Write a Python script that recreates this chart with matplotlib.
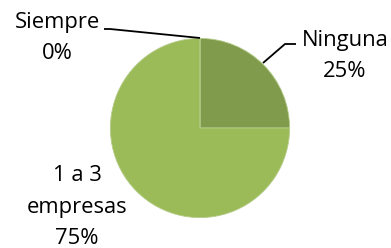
import matplotlib
matplotlib.use("Agg")
import matplotlib.pyplot as plt

categories = ["Ninguna", "1 a 3\nempresas", "Siempre"]
values = [25, 75, 0]
pct_labels = ["25%", "75%", "0%"]
colors = ["#7F9B4B", "#9BBB59", "#C0504D"]

W, H = 391, 248
fig = plt.figure(figsize=(W / 100, H / 100), dpi=100)
ax = fig.add_axes([0, 0, 1, 1])

cx, cy, r = 200, H - 128, 89.6
wedges, _ = ax.pie(values, colors=colors, startangle=90, counterclock=False,
                   center=(cx, cy), radius=r, frame=True,
                   wedgeprops=dict(edgecolor="#B5CC8A", linewidth=0.6))
ax.set_xlim(0, W)
ax.set_ylim(0, H)
ax.set_aspect("equal")
ax.axis("off")

font = dict(family=["Open Sans", "DejaVu Sans"], fontsize=15.8, color="#000000",
            ha="center", va="center", linespacing=1.65)

lbl_pos = [(345, H - 56), (77, H - 207), (57, H - 38)]
for cat, p, pos in zip(categories, pct_labels, lbl_pos):
    ax.text(pos[0], pos[1], cat + "\n" + p, **font)

# leader lines
ax.plot([263, 285, 296], [H - 63, H - 44, H - 44], color="black", lw=1.3,
        solid_capstyle="butt")
ax.plot([200, 110, 104], [H - 38, H - 29, H - 29], color="black", lw=1.3,
        solid_capstyle="butt")

fig.savefig("out.png", dpi=100)
